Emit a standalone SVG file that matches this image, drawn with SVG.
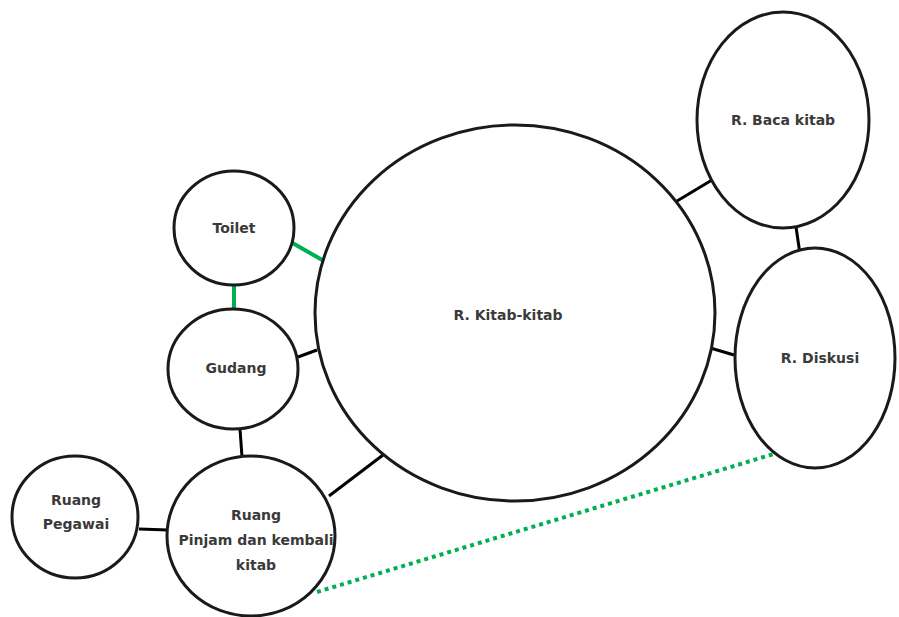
<svg xmlns="http://www.w3.org/2000/svg" width="899" height="617" viewBox="0 0 899 617">
<style>
.n{fill:#fff;stroke:#1a1a1a;stroke-width:3}
.t{font-family:"DejaVu Sans","Liberation Sans",sans-serif;font-size:14px;font-weight:bold;fill:#3a3a3a;text-anchor:middle;dominant-baseline:central}
.k{stroke:#000;stroke-width:3;fill:none}
.g{stroke:#00b050;stroke-width:4;fill:none}
.d{stroke:#00b050;stroke-width:4;fill:none;stroke-dasharray:4 4}
</style>
<rect width="899" height="617" fill="#fff"/>
<g id="connectors">
<line class="g" x1="289" y1="241" x2="324" y2="261"/>
<line class="g" x1="234" y1="284" x2="234" y2="309"/>
<line class="k" x1="298" y1="357" x2="317" y2="350"/>
<line class="k" x1="240" y1="429" x2="242" y2="457"/>
<line class="k" x1="329" y1="496" x2="383" y2="455"/>
<line class="k" x1="139" y1="529" x2="168" y2="530"/>
<line class="k" x1="672" y1="204" x2="712" y2="180"/>
<line class="k" x1="796" y1="227" x2="800" y2="254"/>
<line class="k" x1="707" y1="347" x2="734" y2="355"/>
<line class="d" x1="317" y1="592" x2="777" y2="453"/>
</g>
<g id="kitab"><ellipse class="n" cx="515" cy="313" rx="200" ry="188"/><text class="t" x="508" y="315">R. Kitab-kitab</text></g>
<g id="toilet"><ellipse class="n" cx="234" cy="228" rx="60" ry="57"/><text class="t" x="234" y="228">Toilet</text></g>
<g id="gudang"><ellipse class="n" cx="233" cy="369" rx="65" ry="60"/><text class="t" x="236" y="368">Gudang</text></g>
<g id="pinjam"><ellipse class="n" cx="251" cy="536" rx="84" ry="80"/><text class="t" x="256" y="515">Ruang</text><text class="t" x="256" y="540">Pinjam dan kembali</text><text class="t" x="256" y="565">kitab</text></g>
<g id="pegawai"><ellipse class="n" cx="75" cy="517" rx="63" ry="61"/><text class="t" x="76" y="500">Ruang</text><text class="t" x="76" y="524">Pegawai</text></g>
<g id="baca"><ellipse class="n" cx="783" cy="120" rx="86" ry="108"/><text class="t" x="783" y="120">R. Baca kitab</text></g>
<g id="diskusi"><ellipse class="n" cx="815" cy="358" rx="80" ry="110"/><text class="t" x="820" y="358">R. Diskusi</text></g>
</svg>
